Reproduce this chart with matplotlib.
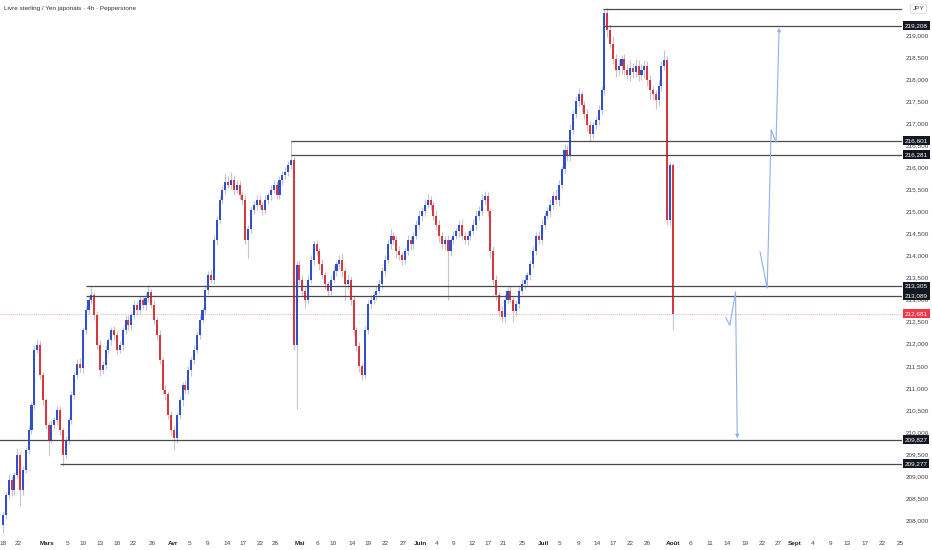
import numpy as np
import matplotlib.pyplot as plt
from matplotlib.ticker import FuncFormatter

# GBP/JPY candles, one close per bar (open = previous close)
first_open = 207.90
closes = [
    208.12, 208.57, 208.91, 208.68, 209.02, 209.48, 208.68, 209.14, 209.59, 210.04,
    210.61, 211.86, 211.97, 211.29, 210.72, 210.16, 209.82, 210.16, 210.27, 210.50,
    210.04, 209.48, 209.82, 210.27, 210.84, 211.29, 211.55, 211.45, 212.31, 212.76,
    212.99, 213.10, 212.65, 211.97, 211.40, 211.52, 211.86, 212.08, 212.31, 212.20,
    211.86, 211.97, 212.31, 212.54, 212.42, 212.65, 212.88, 212.76, 212.99, 212.88,
    213.04, 213.17, 212.88, 212.54, 212.20, 211.63, 210.95, 210.85, 210.38, 210.04,
    209.86, 210.38, 210.72, 211.06, 210.95, 211.40, 211.63, 211.86, 212.20, 212.54,
    212.76, 213.22, 213.56, 213.45, 214.35, 214.80, 215.26, 215.49, 215.67, 215.60,
    215.71, 215.49, 215.60, 215.37, 215.26, 214.35, 214.60, 215.03, 215.15, 215.26,
    215.15, 215.03, 215.26, 215.37, 215.49, 215.60, 215.37, 215.71, 215.83, 215.90,
    216.05, 216.17, 211.97, 213.78, 213.45, 213.20, 213.00, 213.45, 213.90, 214.25,
    214.10, 213.80, 213.55, 213.35, 213.20, 213.45, 213.65, 213.80, 213.90, 213.65,
    213.35, 213.45, 213.00, 212.30, 211.95, 211.50, 211.30, 212.30, 212.90, 213.00,
    213.10, 213.20, 213.35, 213.65, 213.90, 214.25, 214.45, 214.35, 214.10, 214.00,
    213.90, 214.10, 214.35, 214.25, 214.45, 214.70, 214.90, 215.00, 215.15, 215.25,
    215.15, 214.90, 214.70, 214.45, 214.25, 214.35, 214.10, 214.35, 214.45, 214.55,
    214.70, 214.45, 214.35, 214.45, 214.55, 214.70, 214.90, 215.00, 215.25, 215.35,
    215.00, 214.10, 213.45, 213.10, 212.75, 212.60, 213.00, 213.20, 213.00, 212.75,
    212.90, 213.20, 213.35, 213.45, 213.55, 213.80, 214.10, 214.45, 214.35, 214.70,
    214.90, 215.00, 215.15, 215.35, 215.25, 215.60, 215.95, 216.40, 216.25, 216.85,
    217.20, 217.50, 217.65, 217.40, 217.20, 216.95, 216.75, 216.95, 217.07, 217.30,
    217.75, 219.50, 219.10, 218.80, 218.45, 218.20, 218.30, 218.45, 218.20, 218.10,
    218.25, 218.15, 218.30, 218.10, 218.20, 218.30, 217.98, 217.75, 217.65, 217.53,
    217.85, 218.30, 218.43, 214.80, 216.05, 212.68,
]
# wick lengths beyond the body, in hundredths of a yen
up_wick = [
    10, 8, 12, 10, 8, 15, 6, 10, 8, 10,
    8, 10, 14, 10, 8, 6, 10, 12, 8, 10,
    8, 6, 10, 8, 10, 8, 10, 12, 8, 10,
    10, 20, 8, 10, 12, 8, 10, 6, 8, 10,
    8, 10, 8, 12, 10, 8, 10, 8, 10, 8,
    10, 15, 8, 10, 6, 10, 8, 12, 8, 10,
    10, 8, 10, 8, 12, 10, 8, 10, 8, 10,
    8, 10, 8, 10, 12, 8, 10, 8, 20, 12,
    18, 12, 10, 8, 10, 12, 8, 10, 8, 10,
    12, 8, 10, 8, 10, 12, 8, 10, 8, 10,
    10, 43, 8, 10, 12, 10, 8, 10, 12, 8,
    10, 8, 12, 10, 8, 10, 12, 8, 10, 15,
    10, 12, 8, 10, 8, 10, 6, 10, 8, 10,
    8, 10, 12, 8, 10, 12, 15, 8, 10, 12,
    8, 10, 12, 10, 8, 10, 12, 10, 12, 15,
    10, 8, 12, 10, 8, 10, 12, 8, 10, 8,
    10, 12, 8, 10, 8, 12, 10, 12, 15, 12,
    10, 8, 12, 10, 8, 10, 12, 8, 10, 8,
    10, 8, 12, 10, 8, 10, 12, 8, 10, 12,
    8, 10, 12, 10, 15, 10, 8, 12, 10, 12,
    10, 12, 15, 8, 10, 12, 10, 8, 10, 12,
    10, 9, 12, 15, 18, 12, 15, 10, 12, 15,
    18, 12, 15, 12, 15, 12, 10, 12, 8, 10,
    12, 10, 22, 8, 6, 5,
]
dn_wick = [
    20, 10, 8, 12, 10, 8, 35, 10, 8, 10,
    8, 10, 8, 10, 12, 10, 35, 8, 10, 12,
    10, 26, 8, 10, 8, 10, 8, 10, 12, 8,
    8, 10, 12, 10, 12, 8, 10, 8, 10, 12,
    10, 8, 12, 8, 10, 12, 8, 10, 8, 10,
    12, 10, 8, 10, 12, 8, 10, 12, 8, 10,
    26, 10, 8, 12, 10, 8, 12, 10, 8, 10,
    8, 12, 10, 8, 10, 12, 8, 10, 12, 8,
    10, 12, 8, 10, 12, 10, 40, 10, 8, 12,
    10, 12, 8, 10, 12, 8, 10, 8, 12, 10,
    10, 8, 12, 146, 10, 12, 20, 10, 8, 12,
    10, 12, 8, 10, 12, 10, 8, 12, 10, 14,
    35, 10, 12, 10, 12, 15, 12, 10, 8, 12,
    10, 12, 8, 10, 12, 8, 10, 12, 15, 10,
    12, 10, 8, 12, 10, 8, 10, 12, 10, 8,
    12, 10, 12, 15, 10, 12, 110, 12, 10, 8,
    12, 10, 8, 12, 10, 8, 12, 10, 8, 10,
    10, 15, 12, 10, 12, 10, 12, 10, 8, 25,
    12, 10, 8, 10, 12, 10, 8, 10, 8, 10,
    10, 8, 12, 10, 8, 12, 10, 8, 10, 12,
    10, 8, 12, 15, 10, 12, 15, 10, 8, 12,
    10, 12, 15, 10, 12, 15, 10, 18, 12, 10,
    15, 12, 10, 15, 12, 18, 15, 20, 12, 20,
    15, 12, 10, 10, 12, 38,
]

# horizontal levels: price, first bar, label on the scale
levels = [219.59, 219.208, 216.601, 216.281, 213.305, 213.089, 209.827, 209.277]
level_start = [210.5, 211, 101, 101, 29, 29, -2, 20]
level_labels = [None, "219,208", "216,601", "216,281", "213,305", "213,089", "209,827", "209,277"]
last_price = 212.681

# projected paths (bar index, price)
bear_x = [253.6, 255.0, 257.0, 257.6]
bear_y = [212.59, 212.42, 213.17, 209.86]
bull_x = [265.6, 268.1, 269.5, 271.2, 272.3]
bull_y = [214.08, 213.26, 216.85, 216.57, 219.16]

tick_pos = [0, 5.3, 15.4, 22.5, 28.1, 34.0, 40.0, 45.6, 52.3, 59.6, 65.6, 71.9, 78.6,
            84.2, 90.2, 95.4, 104.2, 110.2, 115.8, 122.5, 128.1, 134.0, 140.4, 146.3,
            152.3, 157.9, 164.6, 170.2, 175.4, 182.1, 189.5, 195.4, 201.8, 208.4, 214.0,
            220.0, 226.0, 235.1, 241.1, 248.1, 254.0, 260.4, 266.3, 271.9, 277.9, 284.2,
            290.2, 296.1, 302.5, 308.4, 314.7]
tick_lab = ["18", "22", "Mars", "5", "10", "13", "18", "22", "26", "Avr", "5", "9", "14",
            "17", "22", "26", "Mai", "6", "10", "14", "19", "22", "27", "Juin",
            "4", "9", "12", "17", "21", "25", "Juil", "5", "9", "14", "17",
            "22", "26", "Août", "6", "11", "14", "19", "22", "27", "Sept", "4",
            "9", "13", "17", "22", "25"]
months = {"Mars", "Avr", "Mai", "Juin", "Juil", "Août", "Sept"}

BLUE = "#2f4fd0"
RED = "#d9363e"
WICK = "#c4c6cc"
LEVEL = "#4a4a4a"
PATH = "#8fb0ee"
FONT = ["Liberation Sans Narrow", "Liberation Sans", "DejaVu Sans"]

plt.rcParams["font.family"] = FONT

c = np.array(closes)
o = np.array([first_open] + closes[:-1])
top = np.maximum(o, c)
bot = np.minimum(o, c)
hi = top + np.array(up_wick) / 100
lo = bot - np.array(dn_wick) / 100
x = np.arange(len(c))
up = c >= o

fig = plt.figure(figsize=(9.32, 5.5), dpi=100)
ax = fig.add_axes([0, 13 / 550, 902 / 932, 537 / 550])
x_left, x_right = -1.05, 315.4
ax.set_xlim(x_left, x_right)
ax.set_ylim(207.62, 219.79)

ax.axhline(last_price, color="#f23645", lw=0.6, ls=(0, (1, 1.5)), alpha=0.55, zorder=0.5)

ax.vlines(x, lo, hi, color=WICK, lw=0.8, zorder=1)
ax.bar(x[up], (top - bot)[up], bottom=bot[up], width=0.72, color=BLUE, lw=0, zorder=2)
ax.bar(x[~up], (top - bot)[~up], bottom=bot[~up], width=0.72, color=RED, lw=0, zorder=2)

for lvl, start in zip(levels, level_start):
    ax.hlines(lvl, start, x_right, color=LEVEL, lw=0.9, zorder=3)

# projected paths, arrowhead on the last leg
for px, py in [(bear_x, bear_y), (bull_x, bull_y)]:
    ax.plot(px[:-1], py[:-1], color=PATH, lw=0.8, zorder=4)
    ax.annotate("", xy=(px[-1], py[-1]), xytext=(px[-2], py[-2]),
                arrowprops=dict(arrowstyle="-|>", color=PATH, lw=0.8,
                                mutation_scale=5, shrinkA=0, shrinkB=0), zorder=4)

for s in ax.spines.values():
    s.set_visible(False)

ax.yaxis.tick_right()
ax.set_yticks(np.arange(208.0, 219.01, 0.5))
ax.yaxis.set_major_formatter(FuncFormatter(lambda v, p: f"{v:.3f}".replace(".", ",")))
ax.tick_params(axis="y", length=0, pad=3, labelsize=4.6, labelcolor="#444444")

ax.set_xticks(tick_pos)
ax.set_xticklabels(tick_lab)
ax.tick_params(axis="x", length=0, pad=3, labelsize=4.6, labelcolor="#444444")
for t in ax.get_xticklabels():
    if t.get_text() in months:
        t.set_fontweight("bold")
        t.set_color("#222222")

ytr = ax.get_yaxis_transform()
for lvl, lab in zip(levels, level_labels):
    if lab is None:
        continue
    ax.text(1.003, lvl, lab, transform=ytr, ha="left", va="center", fontsize=4.6,
            color="white", clip_on=False, zorder=10,
            bbox=dict(boxstyle="square,pad=0.3", fc="#131722", ec="none"))
ax.text(1.003, last_price, f"{last_price:.3f}".replace(".", ","), transform=ytr,
        ha="left", va="center", fontsize=4.6, color="white", clip_on=False, zorder=10,
        bbox=dict(boxstyle="square,pad=0.3", fc="#f23645", ec="none"))
ax.text(1.012, levels[0], "JPY", transform=ytr, ha="left", va="center", fontsize=4.6,
        color="#333333", clip_on=False, zorder=10,
        bbox=dict(boxstyle="round,pad=0.35", fc="white", ec="#d0d0d0", lw=0.5))

ax.text(0.004, 0.985, "Livre sterling / Yen japonais · 4h · Pepperstone",
        transform=ax.transAxes, ha="left", va="center", fontsize=4.6, color="#333333")

fig.savefig("out.png", dpi=100)
